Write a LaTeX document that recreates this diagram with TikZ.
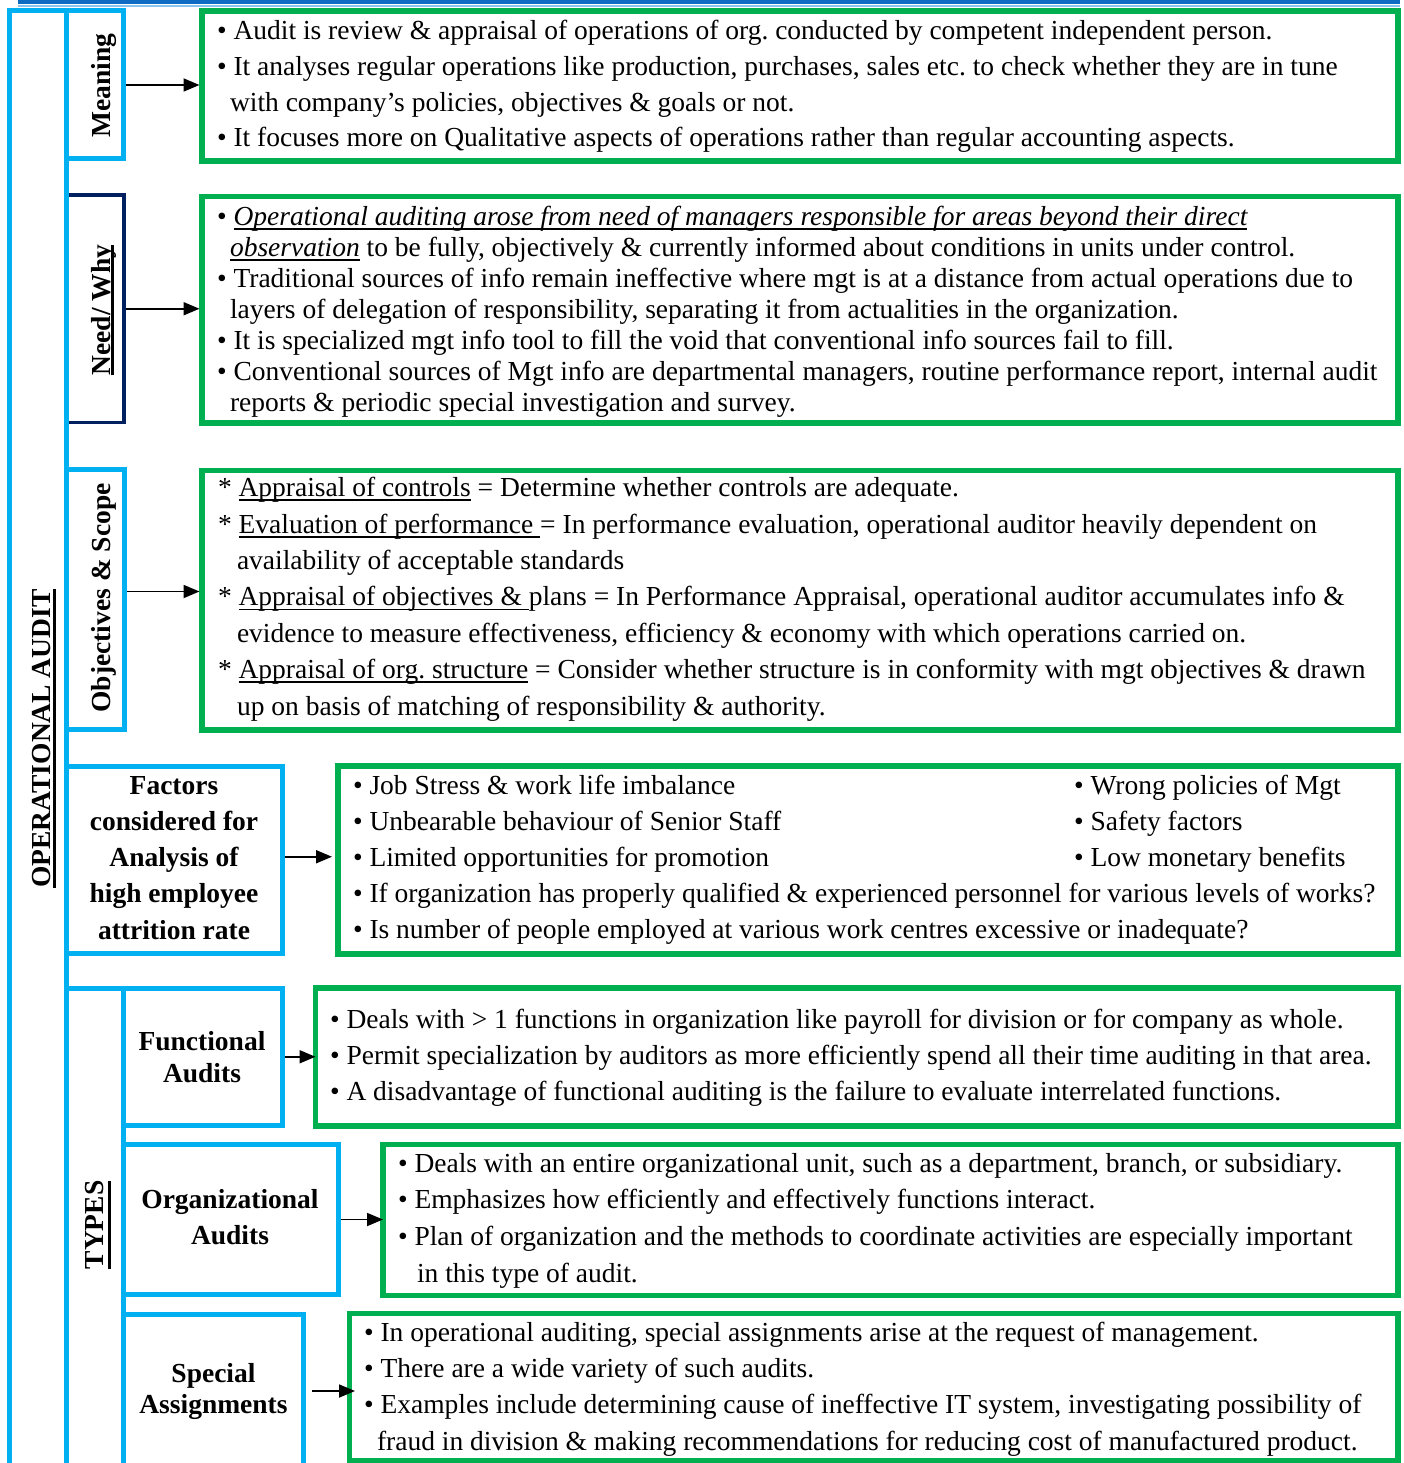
\documentclass[tikz,border=0pt]{standalone}
\usepackage{fontspec}
\setmainfont{Liberation Serif}
\usetikzlibrary{arrows.meta}
\definecolor{lblue}{HTML}{00B0F0}
\definecolor{ggreen}{HTML}{00B050}
\definecolor{navy}{HTML}{002060}
\definecolor{topblue}{HTML}{0E6BC2}
\definecolor{toplight}{HTML}{8CC2EE}
\newcommand\ulb[3]{\setbox0=\hbox{#3}\rlap{\rule[-#1]{\wd0}{#2}}\box0\relax}
\newcommand\bul{\textbullet\ }
\newcommand\topstrut{\rule{0pt}{25pt}}
\tikzset{
 gbox/.style={draw=ggreen, line width=5.5pt, inner sep=0pt, outer sep=0pt, anchor=north west},
 lbox/.style={draw=lblue, line width=5pt, inner sep=0pt, outer sep=0pt, anchor=north west},
 arr/.style={-{Triangle[length=16pt,width=13pt]}, line width=1.8pt},
 txt/.style={inner sep=0pt, outer sep=0pt, anchor=north west, align=left},
 lab/.style={inner sep=0pt, outer sep=0pt, anchor=north, align=center},
 vlab/.style={inner sep=0pt, rotate=90, anchor=base, font=\fontsize{27.5}{33}\selectfont\bfseries},
}
\begin{document}
\begin{tikzpicture}[x=1pt,y=-1pt]
\useasboundingbox (0,0) rectangle (1403,1463);
% top strip
\fill[topblue] (18,0) rectangle (1400,4);
\draw[toplight, line width=1.5pt] (18,6) -- (1400,6);
% navy box first
\node[draw=navy, line width=3.5pt, inner sep=0pt, outer sep=0pt, anchor=north west, minimum width=58pt, minimum height=227.5pt] (l2) at (66,195) {};
% blue structure
\node[lbox, minimum width=57pt, minimum height=1470pt] (outer) at (9,11) {};
\node[lbox, minimum width=57pt, minimum height=148pt] (l1) at (66,11) {};
\node[lbox, minimum width=58.5pt, minimum height=260pt] (l3) at (66,469.5) {};
\node[lbox, minimum width=216pt, minimum height=187.5pt] (l4) at (66,766) {};
\node[lbox, minimum width=57pt, minimum height=490pt] (l5) at (66,988) {};
\node[lbox, minimum width=159pt, minimum height=137.5pt] (l6) at (123,988) {};
\node[lbox, minimum width=215pt, minimum height=150pt] (l7) at (123,1144.5) {};
\node[lbox, minimum width=180.5pt, minimum height=154pt] (l8) at (123,1314) {};
% green boxes
\node[gbox, minimum width=1196pt, minimum height=150pt] (g1) at (202,11) {};
\node[gbox, minimum width=1196pt, minimum height=226.5pt] (g2) at (202,196.5) {};
\node[gbox, minimum width=1196pt, minimum height=259.5pt] (g3) at (202,470.5) {};
\node[gbox, minimum width=1060pt, minimum height=188pt] (g4) at (338,766) {};
\node[gbox, minimum width=1082.5pt, minimum height=138pt] (g5) at (315.5,988) {};
\node[gbox, minimum width=1015pt, minimum height=151pt] (g6) at (383,1144.5) {};
\node[gbox, minimum width=1048.5pt, minimum height=147.5pt] (g7) at (349.5,1313.5) {};
% vertical labels
\node[vlab] (tOA) at (50,738.5) {\ulb{6pt}{3pt}{OPERATIONAL AUDIT}};
\node[vlab] (tM) at (110,85.5) {Meaning};
\node[vlab] (tN) at (110,310) {\ulb{4pt}{2.6pt}{Need/ Why}};
\node[vlab] (tO) at (110,598) {Objectives \& Scope};
\node[vlab] (tT) at (103.5,1225) {\ulb{7pt}{3pt}{TYPES}};
% box labels
\node[lab, font=\fontsize{27.5}{36.3}\selectfont\bfseries] (tF) at (174,769) {\topstrut Factors\\considered for\\Analysis of\\high employee\\attrition rate};
\node[lab, font=\fontsize{27.5}{32}\selectfont\bfseries] (tFA) at (202,1025.7) {\topstrut Functional\\Audits};
\node[lab, font=\fontsize{27.5}{36}\selectfont\bfseries] (tOR) at (230,1183.3) {\topstrut Organizational\\Audits};
\node[lab, font=\fontsize{27.5}{30.7}\selectfont\bfseries] (tSA) at (213.5,1357.7) {\topstrut Special\\Assignments};
% body texts
\node[txt, font=\fontsize{27.5}{35.8}\selectfont] (x1) at (217,14.5) {\topstrut\bul Audit is review \& appraisal of operations of org.\ conducted by competent independent person.\\
\bul It analyses regular operations like production, purchases, sales etc.\ to check whether they are in tune\\
\hspace*{13pt}with company’s policies, objectives \& goals or not.\\
\bul It focuses more on Qualitative aspects of operations rather than regular accounting aspects.};
\node[txt, font=\fontsize{27.5}{31.1}\selectfont] (x2) at (217,200) {\topstrut\bul \ulb{4.5pt}{2pt}{\itshape Operational auditing arose from need of managers responsible for areas beyond their direct}\\
\hspace*{13pt}\ulb{4.5pt}{2pt}{\itshape observation} to be fully, objectively \& currently informed about conditions in units under control.\\
\bul Traditional sources of info remain ineffective where mgt is at a distance from actual operations due to\\
\hspace*{13pt}layers of delegation of responsibility, separating it from actualities in the organization.\\
\bul It is specialized mgt info tool to fill the void that conventional info sources fail to fill.\\
\bul Conventional sources of Mgt info are departmental managers, routine performance report, internal audit\\
\hspace*{13pt}reports \& periodic special investigation and survey.};
\node[txt, font=\fontsize{27.5}{36.4}\selectfont] (x3) at (218,471.7) {\topstrut * \ulb{4.4pt}{1.8pt}{Appraisal of controls} = Determine whether controls are adequate.\\
* \ulb{4.4pt}{1.8pt}{Evaluation of performance\ }= In performance evaluation, operational auditor heavily dependent on\\
\hspace*{19pt}availability of acceptable standards\\
* \ulb{4.4pt}{1.8pt}{Appraisal of objectives \&\ }plans = In Performance Appraisal, operational auditor accumulates info \&\\
\hspace*{19pt}evidence to measure effectiveness, efficiency \& economy with which operations carried on.\\
* \ulb{4.4pt}{1.8pt}{Appraisal of org.\ structure} = Consider whether structure is in conformity with mgt objectives \& drawn\\
\hspace*{19pt}up on basis of matching of responsibility \& authority.};
\node[txt, font=\fontsize{27.5}{36}\selectfont] (x4) at (353,769.3) {\topstrut\bul Job Stress \& work life imbalance\\
\bul Unbearable behaviour of Senior Staff\\
\bul Limited opportunities for promotion\\
\bul If organization has properly qualified \& experienced personnel for various levels of works?\\
\bul Is number of people employed at various work centres excessive or inadequate?};
\node[txt, font=\fontsize{27.5}{36}\selectfont] (x4b) at (1074,769.3) {\topstrut\bul Wrong policies of Mgt\\
\bul Safety factors\\
\bul Low monetary benefits};
\node[txt, font=\fontsize{27.5}{36.4}\selectfont] (x5) at (330,1003) {\topstrut\bul Deals with > 1 functions in organization like payroll for division or for company as whole.\\
\bul Permit specialization by auditors as more efficiently spend all their time auditing in that area.\\
\bul A disadvantage of functional auditing is the failure to evaluate interrelated functions.};
\node[txt, font=\fontsize{27.5}{36.7}\selectfont] (x6) at (398,1147) {\topstrut\bul Deals with an entire organizational unit, such as a department, branch, or subsidiary.\\
\bul Emphasizes how efficiently and effectively functions interact.\\
\bul Plan of organization and the methods to coordinate activities are especially important\\
\hspace*{19pt}in this type of audit.};
\node[txt, font=\fontsize{27.5}{36.1}\selectfont] (x7) at (364,1316.7) {\topstrut\bul In operational auditing, special assignments arise at the request of management.\\
\bul There are a wide variety of such audits.\\
\bul Examples include determining cause of ineffective IT system, investigating possibility of\\
\hspace*{13pt}fraud in division \& making recommendations for reducing cost of manufactured product.};
% arrows
\coordinate (s3) at ([yshift=8pt]l3.east);
\coordinate (s4) at ([yshift=3pt]l4.east);
\draw[arr, shorten <=2.5pt, shorten >=2.5pt] (l1.east) -- (l1.east -| g1.west);
\draw[arr, shorten <=2pt, shorten >=2.5pt] (l2.east) -- (l2.east -| g2.west);
\draw[arr, shorten <=2.5pt, shorten >=2.5pt] (s3) -- (s3 -| g3.west);
\draw[arr, shorten <=2.5pt, shorten >=6pt] (s4) -- (s4 -| g4.west);
\draw[arr, shorten <=2.5pt, shorten >=0pt] (l6.east) -- (l6.east -| g5.west);
\draw[arr, shorten <=2.5pt, shorten >=0pt] (l7.east) -- (l7.east -| g6.west);
\draw[arr, shorten <=8.5pt, shorten >=-5.5pt] (l8.east) -- (l8.east -| g7.west);
\end{tikzpicture}
\end{document}
